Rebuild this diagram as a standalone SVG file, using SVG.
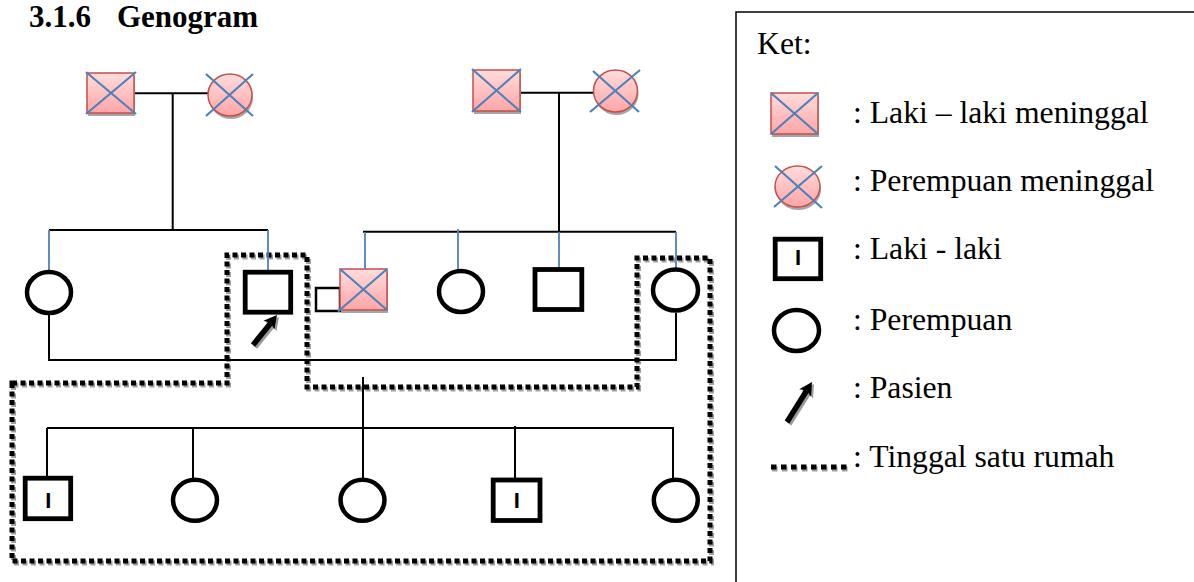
<svg xmlns="http://www.w3.org/2000/svg" width="1194" height="582" viewBox="0 0 1194 582">
<style>
.t{font-family:"Liberation Serif","Times New Roman",serif;font-size:31.7px;fill:#000}
.tb{font-family:"Liberation Serif","Times New Roman",serif;font-size:31px;font-weight:bold;fill:#000}
.ln{stroke:#000;stroke-width:2;fill:none}
.bl{stroke:#4f81bd;stroke-width:1.8;fill:none}
.dead{fill:url(#pink);stroke:#c0504d;stroke-width:1.5}
.x{stroke:#4f81bd;stroke-width:2.2}
.sh{fill:#a6a6a6}
.f{fill:#fff;stroke:#000;stroke-width:4.5}
.m{fill:#fff;stroke:#000;stroke-width:4.8}
.ii{font-family:"Liberation Sans",Arial,sans-serif;font-size:22px;font-weight:bold;text-anchor:middle;fill:#000}
.dh{fill:none;stroke:#000;stroke-width:5;stroke-dasharray:5.5 4.5}
.dhs{fill:none;stroke:#a0a0a0;stroke-width:5;stroke-dasharray:5.5 4.5}
.dot{fill:none;stroke:#000;stroke-width:5;stroke-dasharray:5 3.5}
.dots{fill:none;stroke:#a0a0a0;stroke-width:5;stroke-dasharray:5 3.5}
.ar{stroke:#000;stroke-width:5.5;fill:none}
.ars{stroke:#999;stroke-width:5.5;fill:none}
</style>
<defs>
<linearGradient id="pink" x1="0" y1="0" x2="0" y2="1">
<stop offset="0" stop-color="#ffdcdc"/>
<stop offset="1" stop-color="#ffa5a5"/>
</linearGradient>
</defs>
<rect width="1194" height="582" fill="#fff"/>

<text class="tb" x="29" y="27">3.1.6</text>
<text class="tb" x="117" y="27">Genogram</text>

<!-- household dotted boundary -->
<g id="household">
<path class="dots" transform="translate(1.5,2)" d="M12,383 H227 V255 H307 V387 H637 V258 H710 V561 H12 Z"/>
<path class="dot" d="M12,383 H227 V255 H307 V387 H637 V258 H710 V561 H12 Z"/>
</g>

<g id="connectors">
<path class="ln" d="M134,93.3 H208"/>
<path class="ln" d="M172.7,93.3 V230"/>
<path class="ln" d="M49,230 H268"/>
<path class="bl" d="M49,230 V270 M268,230 V272"/>
<path class="ln" d="M520,92.7 H593"/>
<path class="ln" d="M559,92.7 V232"/>
<path class="ln" d="M363,231.7 H676"/>
<path class="bl" d="M365,232 V269 M458,229 V269 M559,232 V269 M676,232 V268"/>
<path class="ln" d="M49,315 V360 H676 V313"/>
<path class="ln" d="M363,377 V478"/>
<path class="ln" d="M47,428 H673 V479 M47,428 V476 M193,428 V478 M515,426 V478"/>
</g>

<g id="gf1">
<rect class="sh" x="88" y="76" width="47" height="40"/>
<rect class="dead" x="87" y="73" width="47" height="40"/>
<path class="x" d="M86,72 L136,114 M136,72 L86,114"/>
</g>
<g id="gm1">
<ellipse class="sh" cx="231" cy="98" rx="22" ry="21"/>
<ellipse class="dead" cx="230" cy="95" rx="22" ry="21"/>
<path class="x" d="M206,74 L253,116 M206,116 L253,74"/>
</g>
<g id="gf2">
<rect class="sh" x="474" y="73" width="47" height="41"/>
<rect class="dead" x="473" y="70" width="47" height="41"/>
<path class="x" d="M472,69 L521,112 M521,69 L472,112"/>
</g>
<g id="gm2">
<ellipse class="sh" cx="616.5" cy="94" rx="22" ry="21"/>
<ellipse class="dead" cx="615.5" cy="91" rx="22" ry="21"/>
<path class="x" d="M590,112 L640,70 M593,71 L639,112"/>
</g>

<g id="aunt1"><ellipse class="f" cx="49" cy="292.5" rx="22" ry="20.5"/></g>
<g id="patient">
<rect class="m" x="245.2" y="272.2" width="45.5" height="40"/>
<path class="ars" transform="translate(2,2)" d="M253,345 L270.8,322.9"/>
<polygon fill="#999" transform="translate(2,2)" points="277,315 274.4,329.6 270.8,322.9 263.4,320.8"/>
<path class="ar" d="M253,345 L270.8,322.9"/>
<polygon fill="#000" points="277,315 274.4,329.6 270.8,322.9 263.4,320.8"/>
</g>
<g id="spouse"><rect x="316" y="288" width="24" height="23" fill="#fff" stroke="#000" stroke-width="2.5"/></g>
<g id="uncle-dead">
<rect class="sh" x="341" y="272" width="47" height="41"/>
<rect class="dead" x="340" y="269" width="47" height="41"/>
<path class="x" d="M340,269 L387,310 M387,269 L338,311.5"/>
</g>
<g id="aunt2"><ellipse class="f" cx="461" cy="291.5" rx="22" ry="20.5"/></g>
<g id="uncle2"><rect class="m" x="535" y="269.5" width="46.8" height="40"/></g>
<g id="aunt3"><ellipse class="f" cx="675.5" cy="290" rx="22.5" ry="20.5"/></g>

<g id="child1">
<rect class="m" x="25.2" y="478.2" width="45.5" height="40.5"/>
<text class="ii" x="48.3" y="507.5">I</text>
</g>
<g id="child2"><ellipse class="f" cx="195" cy="500.3" rx="22" ry="20.5"/></g>
<g id="child3"><ellipse class="f" cx="362.5" cy="500.3" rx="22" ry="20.5"/></g>
<g id="child4">
<rect class="m" x="493.2" y="480" width="46.8" height="40.5"/>
<text class="ii" x="516.7" y="508.3">I</text>
</g>
<g id="child5"><ellipse class="f" cx="675.8" cy="500.3" rx="22" ry="20.5"/></g>

<g id="legend">
<rect x="736" y="12" width="470" height="600" fill="none" stroke="#000" stroke-width="1.5"/>
<text class="t" x="757" y="54">Ket:</text>
<rect class="sh" x="772" y="96" width="47" height="41"/>
<rect class="dead" x="771" y="93" width="47" height="41"/>
<path class="x" d="M771,93 L818,134 M818,93 L771,134"/>
<text class="t" x="853" y="123">: Laki – laki meninggal</text>
<ellipse class="sh" cx="798.5" cy="189.5" rx="22.5" ry="20.5"/>
<ellipse class="dead" cx="797.5" cy="186.5" rx="22.5" ry="20.5"/>
<path class="x" d="M774,207 L822,166 M775,166 L822,208"/>
<text class="t" x="853" y="191">: Perempuan meninggal</text>
<rect class="m" x="775.2" y="239.2" width="45.5" height="39.5"/>
<text class="ii" x="798" y="265">I</text>
<text class="t" x="853" y="259">: Laki - laki</text>
<ellipse class="f" cx="796.5" cy="330.5" rx="22.5" ry="20.5"/>
<text class="t" x="853" y="330">: Perempuan</text>
<path class="ars" transform="translate(2,2)" d="M787,422 L806.7,390.5"/>
<polygon fill="#999" transform="translate(2,2)" points="812,382 811,396.7 806.7,390.5 799.2,389.3"/>
<path class="ar" d="M787,422 L806.7,390.5"/>
<polygon fill="#000" points="812,382 811,396.7 806.7,390.5 799.2,389.3"/>
<text class="t" x="853" y="398">: Pasien</text>
<path class="dhs" transform="translate(1,2)" d="M771,467 H848"/>
<path class="dh" d="M771,467 H848"/>
<text class="t" x="853" y="467">: Tinggal satu rumah</text>
</g>
</svg>
